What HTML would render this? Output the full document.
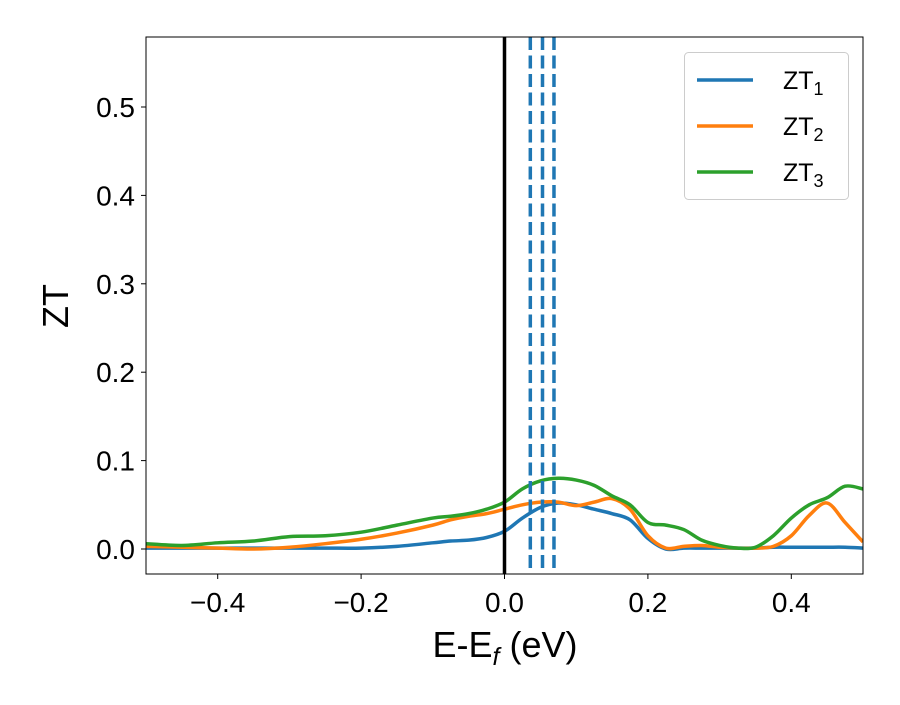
<!DOCTYPE html>
<html><head><meta charset="utf-8"><style>
body{margin:0;background:#fff}
svg text{font-family:"Liberation Sans",sans-serif;fill:#000}
</style></head><body>
<svg id="chart" width="900" height="700">
<rect width="900" height="700" fill="#fff"/>
<g id="plot"></g>
</svg>
<script>
const xs=[-0.5,-0.45,-0.4,-0.35,-0.3,-0.25,-0.2,-0.15,-0.1,-0.075,-0.05,-0.025,0,0.025,0.05,0.075,0.1,0.125,0.15,0.175,0.2,0.225,0.25,0.275,0.3,0.325,0.35,0.375,0.4,0.425,0.45,0.475,0.5];
const zt1=[0.001,0.001,0.001,0.001,0.001,0.001,0.001,0.003,0.007,0.009,0.010,0.013,0.020,0.035,0.047,0.052,0.050,0.045,0.040,0.033,0.012,0.000,0.001,0.001,0.001,0.001,0.001,0.002,0.002,0.002,0.002,0.002,0.001];
const zt2=[0.003,0.002,0.001,0.000,0.002,0.006,0.011,0.018,0.027,0.033,0.037,0.040,0.045,0.050,0.053,0.053,0.049,0.053,0.057,0.045,0.015,0.001,0.003,0.004,0.002,0.001,0.001,0.003,0.015,0.038,0.052,0.030,0.008];
const zt3=[0.006,0.004,0.007,0.009,0.014,0.015,0.019,0.027,0.035,0.037,0.040,0.045,0.053,0.068,0.077,0.080,0.078,0.072,0.060,0.050,0.030,0.027,0.022,0.010,0.004,0.001,0.002,0.015,0.035,0.050,0.058,0.071,0.068];
const dashedX=[0.036,0.053,0.069];
const xTicks=[-0.4,-0.2,0.0,0.2,0.4];
const xTickLabels=["\u22120.4","\u22120.2","0.0","0.2","0.4"];
const yTicks=[0,0.1,0.2,0.3,0.4,0.5];
const yTickLabels=["0.0","0.1","0.2","0.3","0.4","0.5"];
const L=146,R=863,T=37,B=574;
const X=v=>L+(v+0.5)*(R-L);
const Y=v=>549-v*884;
const NS="http://www.w3.org/2000/svg";
const g=document.getElementById('plot');
function mk(tag,attrs,parent){const e=document.createElementNS(NS,tag);for(const k in attrs)e.setAttribute(k,attrs[k]);(parent||g).appendChild(e);return e;}
const clip=mk('clipPath',{id:'cp'});mk('rect',{x:L,y:T,width:R-L,height:B-T},clip);
function path(ys){const p=xs.map((x,i)=>[X(x),Y(ys[i])]);let d=`M${p[0][0]},${p[0][1]}`;
for(let i=0;i<p.length-1;i++){const p0=p[Math.max(0,i-1)],p1=p[i],p2=p[i+1],p3=p[Math.min(p.length-1,i+2)];
d+=` C${p1[0]+(p2[0]-p0[0])/6},${p1[1]+(p2[1]-p0[1])/6} ${p2[0]-(p3[0]-p1[0])/6},${p2[1]-(p3[1]-p1[1])/6} ${p2[0]},${p2[1]}`;}return d;}
const series=[[zt1,'#1f77b4','zt1-line'],[zt2,'#ff7f0e','zt2-line'],[zt3,'#2ca02c','zt3-line']];
const cg=mk('g',{'clip-path':'url(#cp)'});
series.forEach(s=>{const e=mk('path',{d:path(s[0]),fill:'none',stroke:s[1],'stroke-width':3.5},cg);

});
const zl=mk('line',{x1:X(0),x2:X(0),y1:T,y2:B,stroke:'#000','stroke-width':3.5});


dashedX.forEach(v=>{const e=mk('line',{x1:X(v),x2:X(v),y1:T,y2:B,stroke:'#1f77b4','stroke-width':3.5,'stroke-dasharray':'13,5.5'});

});
const fr=mk('rect',{x:L,y:T,width:R-L,height:B-T,fill:'none',stroke:'#000','stroke-width':1});


xTicks.forEach((v,i)=>{mk('line',{x1:X(v),x2:X(v),y1:B,y2:B+5,stroke:'#000'});
const t=mk('text',{x:X(v),y:B+38,'text-anchor':'middle','font-size':28});t.textContent=xTickLabels[i];

});
yTicks.forEach((v,i)=>{mk('line',{x1:L-5,x2:L,y1:Y(v),y2:Y(v),stroke:'#000'});
const t=mk('text',{x:L-11,y:Y(v)+10,'text-anchor':'end','font-size':28});t.textContent=yTickLabels[i];

});
</script>
<svg style="position:absolute;left:0;top:0" width="900" height="700">
<text x="505" y="657" text-anchor="middle" font-size="36">E-E<tspan font-style="italic" font-size="25" dy="8">f</tspan><tspan dy="-8"> (eV)</tspan></text>
<text transform="translate(68,306) rotate(-90)" text-anchor="middle" font-size="36">ZT</text>
<g>
<rect x="684.5" y="52.5" width="164" height="147" rx="4" fill="#fff" fill-opacity="0.8" stroke="#ccc"/>
<g><line x1="697" x2="753" y1="80" y2="80" stroke="#1f77b4" stroke-width="3.5"/><text x="783" y="89" font-size="25">ZT<tspan font-size="18" dy="6">1</tspan></text></g>
<g><line x1="697" x2="753" y1="126" y2="126" stroke="#ff7f0e" stroke-width="3.5"/><text x="783" y="135" font-size="25">ZT<tspan font-size="18" dy="6">2</tspan></text></g>
<g><line x1="697" x2="753" y1="172" y2="172" stroke="#2ca02c" stroke-width="3.5"/><text x="783" y="181" font-size="25">ZT<tspan font-size="18" dy="6">3</tspan></text></g>
</g>
</svg>
</body></html>
